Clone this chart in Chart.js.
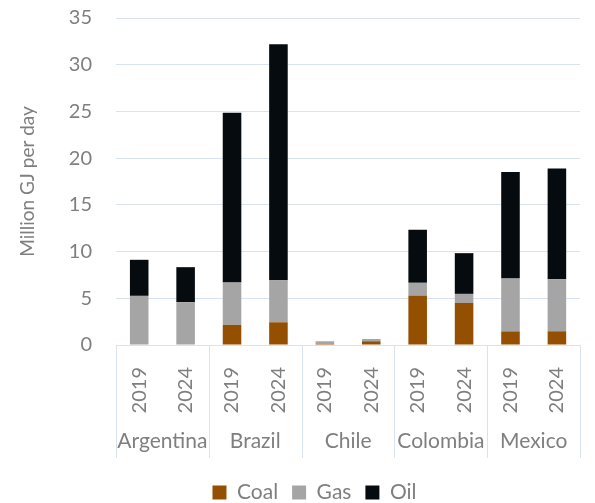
<!DOCTYPE html>
<html>
<head>
<meta charset="utf-8">
<script src="https://cdn.jsdelivr.net/npm/chart.js@4.4.1/dist/chart.umd.min.js"></script>
<style>
  html, body { margin: 0; padding: 0; background: #fff; }
  #wrap { width: 595px; height: 503px; }
</style>
</head>
<body>
<div id="wrap"><canvas id="fuelChart"></canvas></div>
<script>
const countries = ["Argentina", "Brazil", "Chile", "Colombia", "Mexico"];
const years = ["2019", "2024", "2019", "2024", "2019", "2024", "2019", "2024", "2019", "2024"];
const coal = [0, 0, 2.15, 2.43, 0.1, 0.4, 5.29, 4.5, 1.46, 1.47];
const gas = [5.26, 4.58, 4.53, 4.51, 0.3, 0.24, 1.36, 0.97, 5.65, 5.58];
const oil = [3.86, 3.75, 18.18, 25.25, 0, 0, 5.68, 4.36, 11.4, 11.85];
const yTicks = [0, 5, 10, 15, 20, 25, 30, 35];

const textGrey = "#7f7f7f";
const gridBlue = "#d9e2f3";
const font = "Lato, 'Open Sans', sans-serif";

// country separators running through both label rows
const separators = {
  id: "separators",
  afterLayout(chart) {
    // nudge legend to where the original sits
    const lg = chart.legend;
    lg.left += 18; lg.right += 18;
    lg.top += 10; lg.bottom += 10;
  },
  afterDraw(chart) {
    const x = chart.scales.x;
    const x2 = chart.scales.x2;
    const ctx = chart.ctx;
    const step = (x.right - x.left) / years.length;
    ctx.save();
    ctx.strokeStyle = gridBlue;
    ctx.lineWidth = 1;
    for (let i = 0; i <= countries.length; i++) {
      const px = Math.round(x.left + i * 2 * step) + 0.5;
      ctx.beginPath();
      ctx.moveTo(px, x.top);
      ctx.lineTo(px, x2.bottom);
      ctx.stroke();
    }
    ctx.restore();
  }
};

const ctx = document.getElementById("fuelChart");

new Chart(ctx, {
  type: "bar",
  data: {
    labels: years,
    datasets: [
      { label: "Coal", data: coal, backgroundColor: "#954f00" },
      { label: "Gas", data: gas, backgroundColor: "#a5a5a5" },
      { label: "Oil", data: oil, backgroundColor: "#060b0f" }
    ]
  },
  options: {
    responsive: true,
    maintainAspectRatio: false,
    animation: false,
    datasets: { bar: { categoryPercentage: 0.4, barPercentage: 1 } },
    layout: { padding: { left: 0, right: 2, top: 18, bottom: 0 } },
    plugins: {
      tooltip: { enabled: false },
      legend: {
        position: "bottom",
        labels: {
          color: textGrey,
          font: { family: font, size: 21 },
          boxWidth: 14,
          boxHeight: 14,
          padding: 14
        }
      }
    },
    scales: {
      x: {
        stacked: true,
        grid: { display: false },
        border: { color: gridBlue },
        ticks: {
          color: textGrey,
          font: { family: font, size: 20 },
          minRotation: 90,
          maxRotation: 90,
          padding: 14
        },
        afterFit(scale) { scale.height = 76; }
      },
      x2: {
        type: "category",
        labels: countries,
        position: "bottom",
        offset: true,
        grid: { display: false },
        border: { display: false },
        ticks: {
          color: textGrey,
          font: { family: font, size: 21 },
          autoSkip: false,
          minRotation: 0,
          maxRotation: 0,
          padding: 0
        },
        afterFit(scale) { scale.height = 37; }
      },
      y: {
        stacked: true,
        min: 0,
        max: 35,
        afterBuildTicks(scale) {
          scale.ticks = yTicks.map(v => ({ value: v }));
        },
        grid: { color: gridBlue, drawTicks: false },
        border: { display: false },
        ticks: {
          color: textGrey,
          font: { family: font, size: 20 },
          padding: 24
        },
        title: {
          display: true,
          text: "Million GJ per day",
          color: textGrey,
          font: { family: font, size: 19 },
          padding: { top: 16, bottom: 0 }
        },
        afterFit(scale) {
          scale.width = 116;
          scale.paddingTop = 0;
          scale.paddingBottom = 0;
        }
      }
    }
  },
  plugins: [separators]
});
</script>
</body>
</html>
